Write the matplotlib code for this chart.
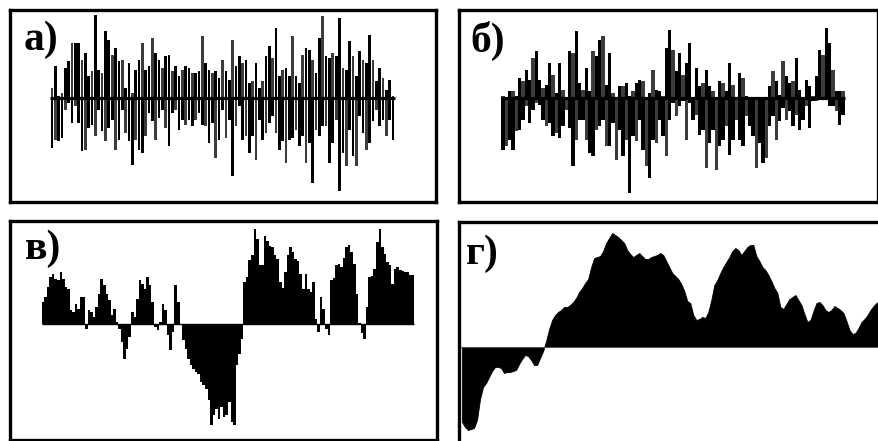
"""
Four panels of a signal at different stages: а) and б) are noisy bar
series (each column has an upward and a downward extent), в) and г) are
filled profiles around a zero line.
"""
import numpy as np
import matplotlib as mpl
mpl.use("agg")
from matplotlib import pyplot as plt

# %% data (units: height above the zero line)
# panel а)
aUp = [10, 32, 2, 5, 30, 37, 55, 55, 55, 38,
       45, 22, 27, 83, 28, 25, 67, 58, 43, 50,
       37, 38, 10, 35, 5, 28, 38, 55, 28, 32,
       60, 45, 38, 30, 42, 43, 27, 32, 22, 28,
       32, 30, 25, 25, 27, 62, 35, 28, 25, 27,
       20, 38, 27, 18, 58, 32, 42, 35, 38, 15,
       17, 35, 10, 17, 42, 52, 40, 70, 22, 28,
       30, 22, 62, 22, 15, 43, 50, 48, 38, 25,
       60, 82, 42, 40, 45, 42, 80, 30, 28, 57,
       42, 22, 47, 38, 35, 63, 38, 17, 30, 20,
       8, 18, 2]
aDown = [-50, -42, -43, -40, -12, -5, -25, -8, -25, -53,
         -52, -30, -27, -38, -12, -33, -43, -30, -22, -52,
         -42, -12, -35, -43, -67, -42, -52, -55, -38, -15,
         -23, -42, -20, -12, -30, -48, -15, -12, -32, -22,
         -27, -22, -28, -22, -15, -27, -28, -45, -25, -60,
         -42, -12, -40, -22, -78, -28, -8, -42, -38, -55,
         -38, -62, -22, -42, -35, -25, -18, -35, -52, -43,
         -65, -42, -40, -32, -48, -38, -65, -45, -85, -32,
         -38, -28, -28, -65, -45, -22, -93, -55, -68, -32,
         -58, -68, -18, -35, -52, -45, -23, -12, -28, -22,
         -38, -22, -42]

# panel б)
bUp = [2, 0, 7, 7, 2, 20, 17, 28, 18, 40,
       47, 18, 10, 13, 35, 23, 5, 35, 8, 0,
       47, 45, 67, 15, 8, 30, 7, 47, 42, 58,
       62, 13, 45, 5, 0, 12, 12, 15, 2, 7,
       15, 18, 17, 0, 5, 28, 8, 7, 2, 50,
       68, 48, 27, 45, 23, 35, 55, 0, 30, 12,
       15, 28, 12, 7, 0, 17, 15, 7, 35, 13,
       0, 25, 20, 2, 0, 0, 0, 0, 0, 0,
       12, 27, 17, 3, 37, 22, 15, 17, 40, 8,
       0, 18, 12, 2, 22, 48, 43, 70, 55, 28,
       7, 7, 7]
bDown = [-52, -48, -42, -52, -33, -32, -22, -8, -25, -12,
         -5, -7, -22, -28, -25, -38, -35, -40, -28, -12,
         -30, -68, -42, -22, -22, -42, -55, -58, -32, -28,
         -22, -48, -48, -25, -62, -32, -58, -42, -95, -38,
         -43, -22, -52, -68, -80, -42, -45, -22, -38, -58,
         -22, -5, -18, -8, -3, -42, -5, -22, -17, -37,
         -32, -70, -45, -32, -72, -48, -42, -28, -57, -42,
         -22, -42, -48, -18, -28, -38, -70, -45, -65, -60,
         -28, -18, -42, -23, -10, -22, -13, -28, -17, -32,
         -22, -8, -30, -3, -3, -2, -2, -2, -8, -8,
         -13, -27, -17]

# panel в)
vValues = [22, 27, 37, 47, 50, 45, 44, 52, 45, 37,
           35, 14, 12, 20, 15, 27, 27, -5, 14, 12,
           7, 17, 30, 45, 39, 30, 24, 9, 15, 2,
           -5, -18, -35, -25, -13, 12, 7, 25, 44, 40,
           35, 47, 39, 22, -3, -6, 2, 20, 14, -11,
           -26, -8, 39, 22, 0, -16, -25, -35, -41, -45,
           -48, -50, -58, -61, -65, -76, -101, -91, -85, -95,
           -83, -93, -91, -78, -98, -101, -41, -30, -15, 42, 47,
           64, 69, 95, 85, 59, 59, 88, 83, 78, 77, 69, 65,
           42, 36, 52, 69, 77, 72, 65, 63, 50, 35, 50, 35,
           32, 42, 5, -8, 27, 15, -5, -11, 44, 46, 59, 60,
           57, 66, 77, 79, 72, 60, 30, 1, -9, -15, 17, 47,
           48, 55, 82, 95, 77, 70, 62, 59, 40, 55, 57, 54,
           53, 52, 52, 49, 49]

# panel г)
gValues = [-75, -80, -83, -82, -81, -73, -52, -40, -36, -30,
           -24, -20, -20, -21, -26, -25, -25, -24, -23, -17,
           -12, -8, -9, -13, -18, -18, -11, -4, 6, 18,
           27, 32, 35, 37, 40, 40, 42, 45, 49, 55,
           59, 64, 68, 80, 89, 90, 91, 96, 104, 109,
           114, 112, 110, 107, 104, 97, 93, 90, 92, 94,
           91, 88, 88, 90, 91, 92, 94, 92, 86, 80,
           74, 71, 68, 63, 56, 46, 44, 32, 27, 28,
           30, 29, 35, 47, 62, 67, 74, 80, 85, 90,
           96, 99, 97, 92, 96, 100, 102, 102, 91, 86,
           80, 77, 72, 66, 59, 54, 40, 38, 43, 48,
           50, 52, 47, 42, 33, 25, 27, 36, 44, 45,
           42, 37, 35, 37, 41, 39, 37, 34, 26, 17,
           13, 14, 19, 25, 28, 32, 37, 41, 44, 46]

panelLabels = ["а)", "б)", "в)", "г)"]

# %% layout (pixels, measured from the top-left corner of the picture)
W, H = 879, 441
# frame of each panel: left, top, right, bottom
boxA = (9.5, 9.5, 436, 202)
boxB = (459.5, 9.5, 878.5, 202)
boxV = (9.5, 220.5, 437, 439.5)
boxG = (459.5, 221.5, 884, 445)
# horizontal extent of the data and position of the zero line
spanA, baseA = (52, 393), 98
spanB, baseB = (503, 843), 98
spanV, baseV = (43, 413), 324
spanG, baseG = (462, 879.5), 347
labelPos = [(24, 50), (470, 52), (25, 259), (466, 264)]

fig = plt.figure(figsize=(W / 100, H / 100), dpi=100)


def addPanel(box):
    left, top, right, bottom = box
    ax = fig.add_axes([left / W, 1 - bottom / H, (right - left) / W, (bottom - top) / H])
    ax.set_xticks([])
    ax.set_yticks([])
    for spine in ax.spines.values():
        spine.set_linewidth(2.4)
        spine.set_color("black")
    return ax


def fitData(ax, n, box, span, base):
    """Index 0..n-1 is stretched over span, values are in pixel units."""
    left, top, right, bottom = box
    step = (span[1] - span[0]) / (n - 1)
    ax.set_xlim((left - span[0]) / step, (right - span[0]) / step)
    ax.set_ylim(base - bottom, base - top)


def noisyBars(ax, up, down, width):
    idx = np.arange(len(up))
    upColours = ["black" if i % 3 else "#3c3c3c" for i in idx]
    downColours = ["#3c3c3c" if i % 3 == 1 else "black" for i in idx]
    ax.bar(idx, up, width=width, color=upColours, linewidth=0)
    ax.bar(idx, down, width=width, color=downColours, linewidth=0)
    ax.hlines(0, -0.5, len(up) - 0.5, color="black", linewidth=2.3)


# а)
axA = addPanel(boxA)
noisyBars(axA, aUp, aDown, 0.8)
fitData(axA, len(aUp), boxA, spanA, baseA)

# б)
axB = addPanel(boxB)
noisyBars(axB, bUp, bDown, 0.92)
fitData(axB, len(bUp), boxB, spanB, baseB)

# в)
axV = addPanel(boxV)
vIdx = np.arange(len(vValues))
axV.bar(vIdx, vValues, width=1.0, color="black", linewidth=0)
axV.hlines(0, -0.5, len(vValues) - 0.5, color="black", linewidth=1.0)
fitData(axV, len(vValues), boxV, spanV, baseV)

# г)
axG = addPanel(boxG)
gIdx = np.arange(len(gValues))
axG.fill_between(gIdx, 0, gValues, color="black", linewidth=0.6)
axG.axhline(0, color="#555555", linewidth=0.8)
fitData(axG, len(gValues), boxG, spanG, baseG)

for label, (lx, ly) in zip(panelLabels, labelPos):
    fig.text(lx / W, 1 - ly / H, label, fontfamily="Liberation Serif",
             fontweight="bold", fontsize=30, ha="left", va="baseline")

fig.savefig("out.png", dpi=100)
plt.close(fig)
